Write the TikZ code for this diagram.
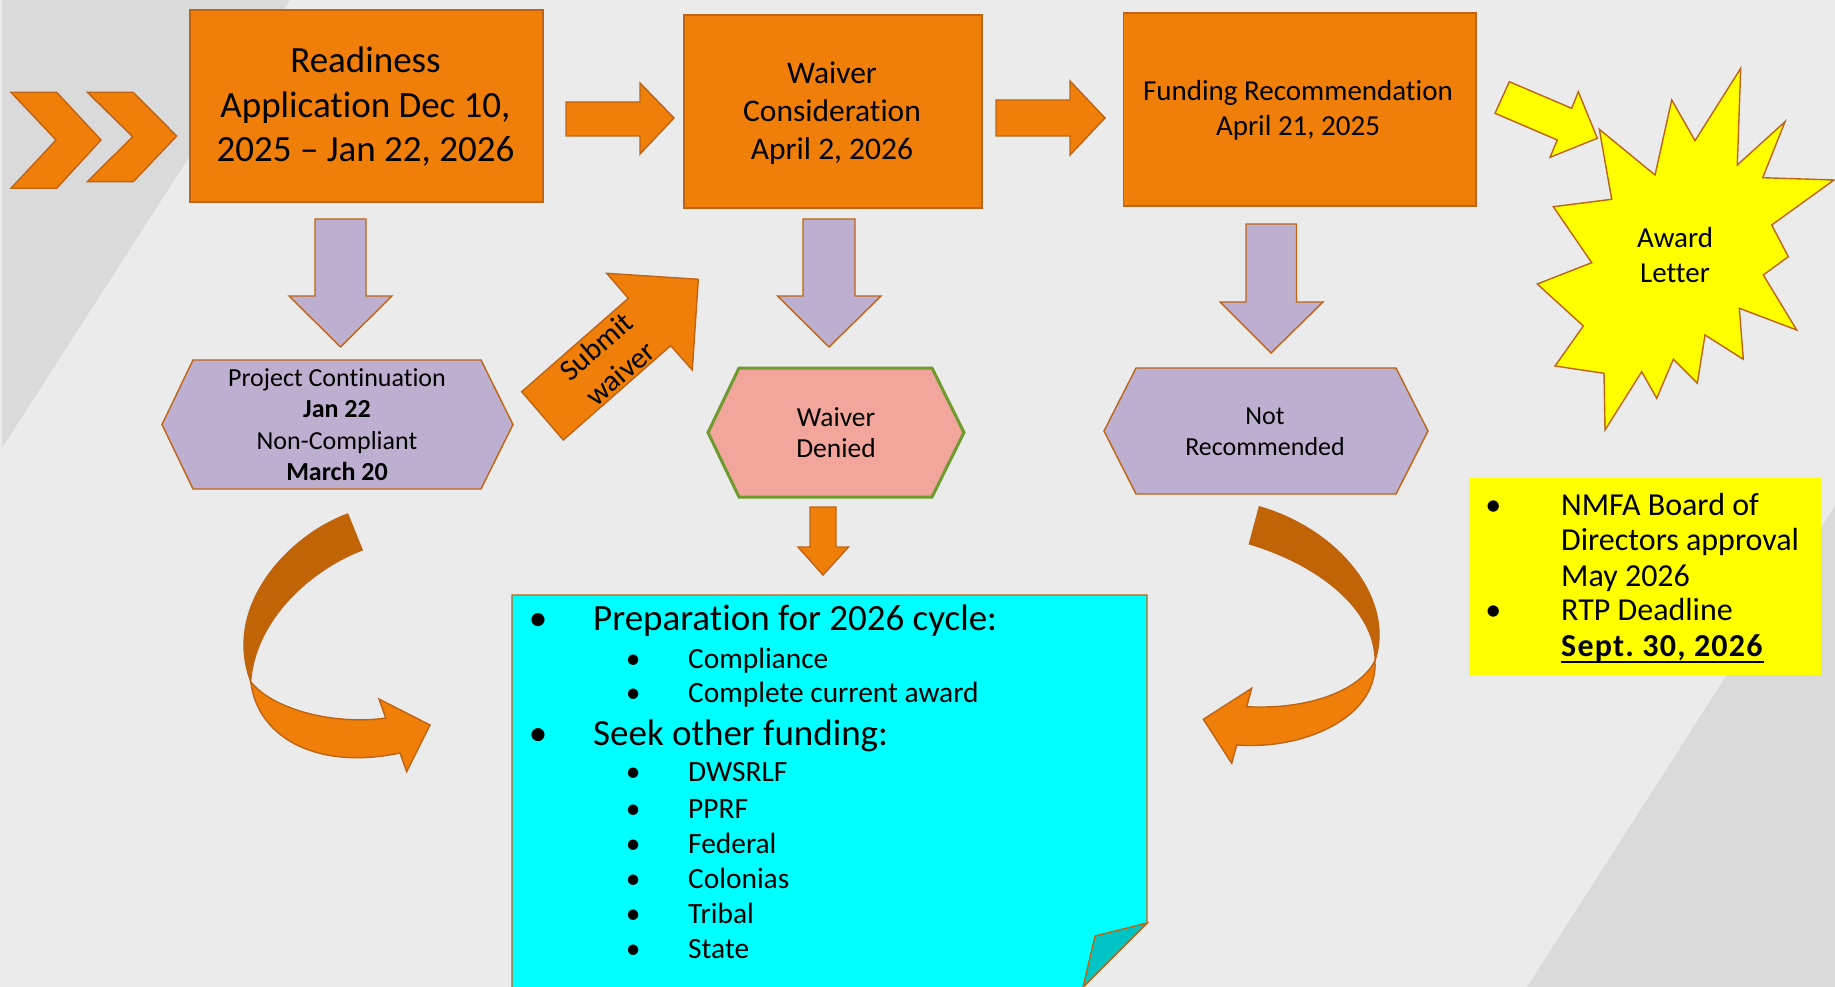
\documentclass[tikz,border=0pt]{standalone}
\usepackage{fontspec}
\setmainfont{Carlito}[Ligatures=NoCommon]
\usetikzlibrary{calc}
\definecolor{bglight}{HTML}{EBEBEB}
\definecolor{bgdark}{HTML}{DADADA}
\definecolor{orfill}{HTML}{F07F09}
\definecolor{orline}{HTML}{BE6414}
\definecolor{ordark}{HTML}{C06405}
\definecolor{lavfill}{HTML}{BDAFD0}
\definecolor{pinkfill}{HTML}{F2A59A}
\definecolor{greenline}{HTML}{6E9A2E}
\definecolor{yel}{HTML}{FFFF00}
\definecolor{cyanfill}{HTML}{00FFFF}
\definecolor{cyanfold}{HTML}{00C3C3}
\newcommand{\setfs}[2]{\fontsize{#1pt}{#2pt}\selectfont}
\newcommand{\mlines}[1]{\begin{tabular}[t]{@{}c@{}}#1\end{tabular}}
\newcommand{\bul}{\makebox[0pt][c]{\textbullet}}
\frenchspacing
\begin{document}
\begin{tikzpicture}[x=1pt,y=-1pt,
  blk/.style={draw=orline, fill=orfill, line width=1.4pt, line join=miter},
  lavblk/.style={draw=orline, fill=lavfill, line width=1.4pt, line join=miter},
  darkblk/.style={draw=orline, fill=ordark, line width=1.2pt},
  boxnode/.style={draw=orline, fill=orfill, line width=1.6pt, inner sep=0pt, anchor=north west},
  lbl/.style={inner sep=0pt, anchor=base, text=black},
  item/.style={inner sep=0pt, anchor=base west, text=black},
]
\useasboundingbox (0,0) rectangle (1835,987);
% background
\fill[bglight] (0,0) rectangle (1835,987);
\fill[bgdark] (2,0) -- (290,0) -- (2,448) -- cycle;
\fill[bgdark] (1527,987) -- (1835,987) -- (1835,506) -- cycle;

% lead-in chevrons
\filldraw[blk] (11,92.3) -- (56.7,92.3) -- (101,140) -- (56.7,188.3) -- (11,188.3) -- (56,140) -- cycle;
\filldraw[blk] (87.3,92.3) -- (133.3,92.3) -- (176.7,136) -- (133.3,181.7) -- (87.3,181.7) -- (132.7,136.7) -- cycle;

% top row of stages
\node[boxnode, minimum width=353pt, minimum height=192pt] (ready) at (189,9) {};
\node[boxnode, minimum width=298pt, minimum height=193pt] (waiverc) at (683,14) {};
\node[boxnode, minimum width=352.5pt, minimum height=193pt] (funding) at (1122.5,12) {};
\node[lbl, font=\setfs{37}{44.5}] (readytxt) at (365.5,72.7) {\mlines{Readiness\\Application Dec 10,\\2025 – Jan 22, 2026}};
\node[lbl, font=\setfs{31.5}{38}] (waivertxt) at (832,83.3) {\mlines{Waiver\\Consideration\\April 2, 2026}};
\node[lbl, font=\setfs{29}{34.7}] (fundtxt) at (1298,101) {\mlines{Funding Recommendation\\April 21, 2025}};

% right block arrows
\filldraw[blk] (566,102) -- (640,102) -- (640,83) -- (674,118) -- (640,154) -- (640,136) -- (566,136) -- cycle;
\filldraw[blk] (996,100) -- (1070,100) -- (1070,81) -- (1105,118) -- (1070,155) -- (1070,136) -- (996,136) -- cycle;

% down block arrows
\filldraw[lavblk] (315,219) -- (366,219) -- (366,296) -- (392,296) -- (340.5,347) -- (289,296) -- (315,296) -- cycle;
\filldraw[lavblk] (803,219) -- (855,219) -- (855,296) -- (881,296) -- (829,347) -- (777.5,296) -- (803,296) -- cycle;
\filldraw[lavblk] (1246,224) -- (1296.5,224) -- (1296.5,302) -- (1323,302) -- (1271,353) -- (1220,302) -- (1246,302) -- cycle;
\filldraw[blk] (810,507) -- (836,507) -- (836,547) -- (848.5,547) -- (823,575) -- (798,547) -- (810,547) -- cycle;

% outcome hexagons
\filldraw[lavblk] (193,360) -- (481,360) -- (513,424.5) -- (481,489) -- (193,489) -- (162,424.5) -- cycle;
\node[lbl, font=\setfs{26}{31.5}] (projtxt) at (337,386) {\mlines{Project Continuation\\\textbf{Jan 22}\\Non-Compliant\\\textbf{March 20}}};
\filldraw[draw=greenline, fill=pinkfill, line width=3pt] (739,368) -- (932,368) -- (964,432.5) -- (932,497) -- (739,497) -- (708,432.5) -- cycle;
\node[lbl, font=\setfs{27.5}{31.3}] (deniedtxt) at (836,426) {\mlines{Waiver\\Denied}};
\filldraw[lavblk] (1136,368) -- (1396,368) -- (1428,431) -- (1396,494) -- (1136,494) -- (1104,431) -- cycle;
\node[lbl, font=\setfs{26}{31}] (nottxt) at (1265,424) {\mlines{Not\\Recommended}};

% submit waiver arrow
\filldraw[blk] (521.7,391.7) -- (628.3,298.3) -- (606.7,273.3) -- (698.3,279.3) -- (692.3,370) -- (670.7,345.7) -- (563.3,440) -- cycle;
\node[lbl, rotate=41, font=\setfs{30}{36}] (submittxt) at (603,354) {\mlines{Submit\\waiver}};

% award burst and its arrow
\filldraw[draw=orline, fill=yel, line width=1.4pt] (1495,113.3) -- (1509.3,81.7) -- (1571.7,108.3) -- (1578.3,91.7) -- (1597.3,138.3) -- (1550,157.3) -- (1557.3,140) -- cycle;
\filldraw[draw=orline, fill=yel, line width=1.4pt]
  (1599.3,129.3) -- (1655,175) -- (1671.7,100) -- (1695,140.7) -- (1740.7,68.3) -- (1737.3,165)
  -- (1785,121.7) -- (1762.7,177.7) -- (1834,180) -- (1771.7,225) -- (1788.3,256.7) -- (1763.3,275)
  -- (1796.7,330) -- (1739.3,308.3) -- (1743.3,359.3) -- (1705,335) -- (1697.3,383.3) -- (1673.3,359.3)
  -- (1656.7,398.3) -- (1641.7,371.7) -- (1605,430) -- (1604,373.3) -- (1555,366) -- (1583.3,326)
  -- (1537.3,284) -- (1591.7,262.7) -- (1553.3,206.7) -- (1611.7,199.3) -- cycle;
\node[lbl, font=\setfs{29}{35.4}] (awardtxt) at (1675,247.3) {\mlines{Award\\Letter}};

% curved arrows into the list
\filldraw[darkblk] (347.7,514) .. controls (290,535) and (222,605) .. (250.7,681.7)
  .. controls (255,620) and (310,570) .. (362.3,550) -- cycle;
\filldraw[blk] (250.7,681.7) .. controls (258,740) and (320,770) .. (400,753) -- (406.7,771.7) -- (430,725)
  -- (379,699) -- (385.7,718) .. controls (340,725) and (275,712) .. (250.7,681.7) -- cycle;
\filldraw[darkblk] (1259.3,506.7) .. controls (1340,530) and (1395,600) .. (1375,660.7)
  .. controls (1375,610) and (1320,565) .. (1249.3,544) -- cycle;
\filldraw[blk] (1375,660.7) .. controls (1378,720) and (1300,750) .. (1236.7,745) -- (1231.7,763.3)
  -- (1203.3,719.3) -- (1251.7,688.3) -- (1246.7,706.7) .. controls (1310,710) and (1360,690) .. (1375,660.7) -- cycle;

% note sheet with folded corner
\filldraw[draw=orline, fill=cyanfill, line width=1.4pt] (512,1000) -- (512,595) -- (1147,595) -- (1147,923) -- (1070,1000);
\filldraw[draw=orline, fill=cyanfold, line width=1.4pt] (1147,923) -- (1095,936) -- (1083,987) -- cycle;
\node[item, font=\setfs{37}{43}] (prep) at (538,630.7) {\bul\hspace{55pt}Preparation for 2026 cycle:};
\node[item, font=\setfs{29.4}{35}] (comp) at (633,668.3) {\bul\hspace{55pt}Compliance};
\node[item, font=\setfs{29.4}{35}] (award) at (633,702.7) {\bul\hspace{55pt}Complete current award};
\node[item, font=\setfs{37}{43}] (seek) at (538,745) {\bul\hspace{55pt}Seek other funding:};
\node[item, font=\setfs{29.4}{35}] (dws) at (633,781.7) {\bul\hspace{55pt}DWSRLF};
\node[item, font=\setfs{29.4}{35}] (pprf) at (633,818.3) {\bul\hspace{55pt}PPRF};
\node[item, font=\setfs{29.4}{35}] (fed) at (633,853.3) {\bul\hspace{55pt}Federal};
\node[item, font=\setfs{29.4}{35}] (col) at (633,888.3) {\bul\hspace{55pt}Colonias};
\node[item, font=\setfs{29.4}{35}] (trib) at (633,923.3) {\bul\hspace{55pt}Tribal};
\node[item, font=\setfs{29.4}{35}] (state) at (633,958.3) {\bul\hspace{55pt}State};

% deadlines note
\node[anchor=north west, fill=yel, minimum width=352pt, minimum height=197.5pt, inner sep=0pt] (notebox) at (1469,477.5) {};
\node[item, font=\setfs{32}{35.3}] (y1) at (1493,515) {\bul\hspace{68pt}NMFA Board of};
\node[item, font=\setfs{32}{35.3}] (y2) at (1561,550.7) {Directors approval};
\node[item, font=\setfs{32}{35.3}] (y3) at (1561,586) {May 2026};
\node[item, font=\setfs{32}{35.3}] (y4) at (1493,620.7) {\bul\hspace{68pt}RTP Deadline};
\node[item, font=\setfs{32}{35.3}\addfontfeatures{LetterSpace=3.8}] (y5) at (1561,656) {\textbf{Sept. 30, 2026}};
\draw[line width=2pt] ([yshift=-5.7pt]y5.base west) -- ([yshift=-5.7pt]y5.base east);
\end{tikzpicture}
\end{document}
